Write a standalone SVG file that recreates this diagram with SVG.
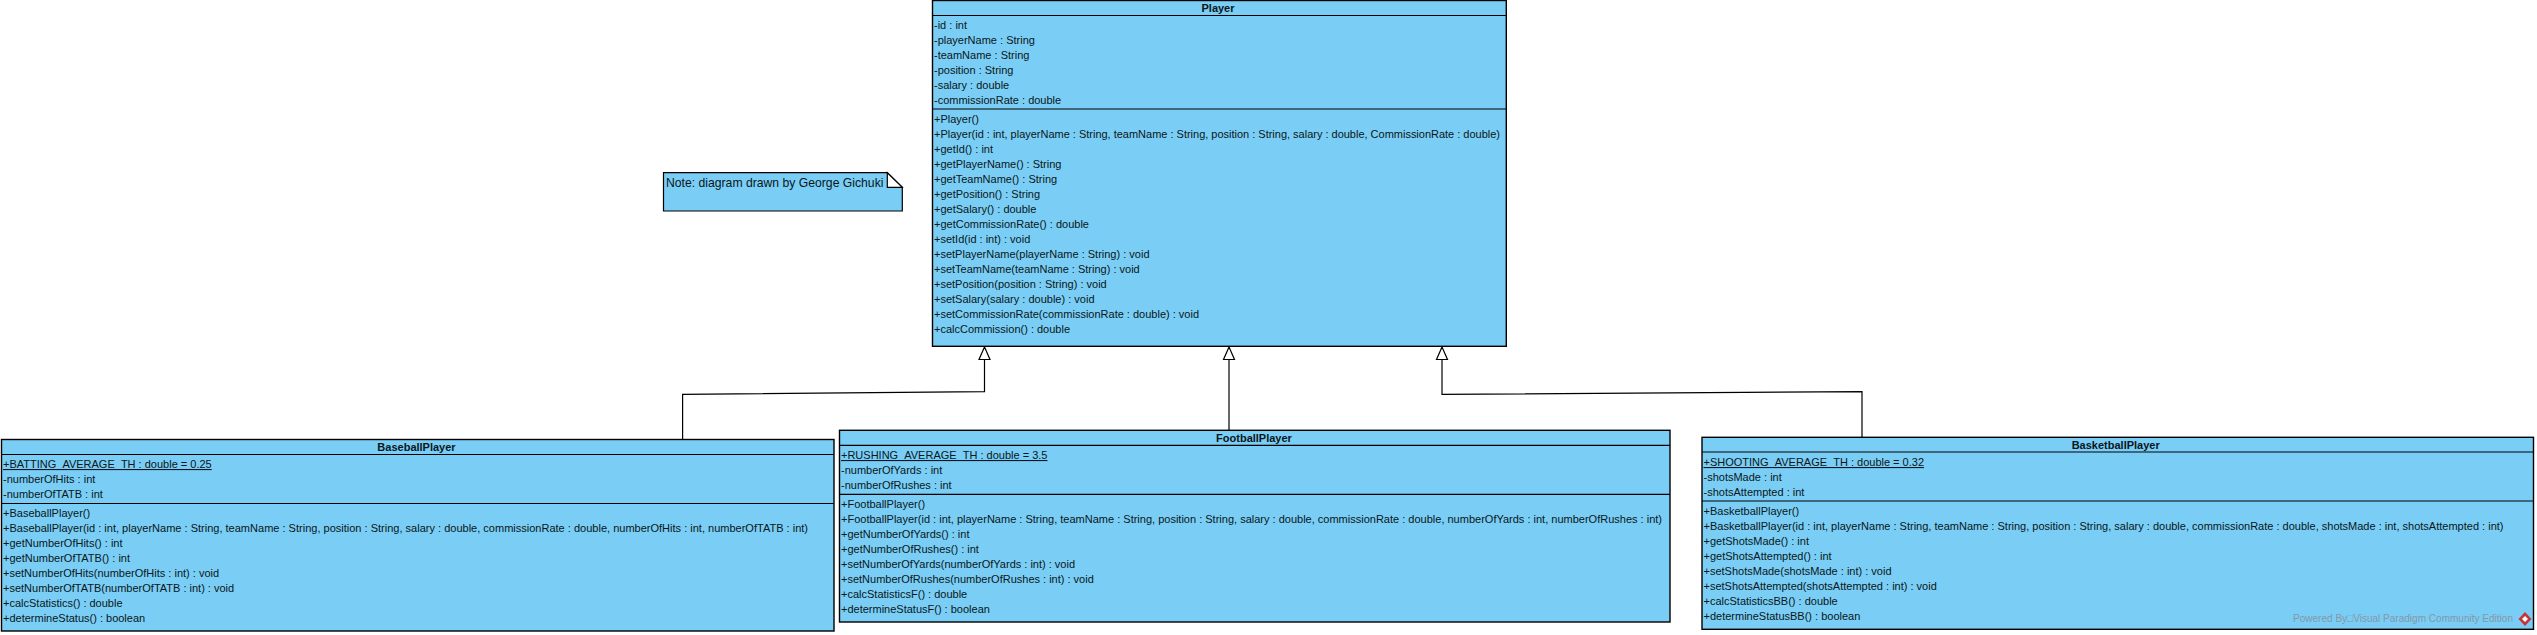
<svg xmlns="http://www.w3.org/2000/svg" width="2537" height="635" viewBox="0 0 2537 635">
<style>
.b{fill:#7acef5;stroke:#000;stroke-width:1.4}
.s{stroke:#000;stroke-width:1.2;fill:none}
.c{stroke:#000;stroke-width:1.2;fill:none}
text{font-family:"Liberation Sans",Arial,sans-serif;fill:#0a1620}
.t{font-size:11px}
.h{font-size:11px;font-weight:bold;text-anchor:middle}
.u{text-decoration:underline}
</style>
<rect width="2537" height="635" fill="#fff"/>
<g id="connectors">
<path class="c" d="M984.5 359.5V391.7L682.6 394.3V439"/>
<path class="c" d="M1229 359.5V430"/>
<path class="c" d="M1442 359.5V394.3L1862 391.7V437"/>
<path d="M984.5 347L990 359.5H979Z M1229 347L1234.5 359.5H1223.5Z M1442 347L1447.500 359.5H1436.500Z" fill="#fff" stroke="#000" stroke-width="1.2"/>
</g>
<g id="Player">
<rect class="b" x="932.500" y="0.500" width="573.800" height="345.800"/>
<path class="s" d="M932.500 15.500H1506.300M932.500 109H1506.300"/>
<text class="h" x="1218" y="12">Player</text>
<text class="t" x="934" y="29">-id : int</text>
<text class="t" x="934" y="44">-playerName : String</text>
<text class="t" x="934" y="59">-teamName : String</text>
<text class="t" x="934" y="74">-position : String</text>
<text class="t" x="934" y="89">-salary : double</text>
<text class="t" x="934" y="104">-commissionRate : double</text>
<text class="t" x="934" y="123">+Player()</text>
<text class="t" x="934" y="138" textLength="566" lengthAdjust="spacingAndGlyphs">+Player(id : int, playerName : String, teamName : String, position : String, salary : double, CommissionRate : double)</text>
<text class="t" x="934" y="153">+getId() : int</text>
<text class="t" x="934" y="168">+getPlayerName() : String</text>
<text class="t" x="934" y="183">+getTeamName() : String</text>
<text class="t" x="934" y="198">+getPosition() : String</text>
<text class="t" x="934" y="213">+getSalary() : double</text>
<text class="t" x="934" y="228">+getCommissionRate() : double</text>
<text class="t" x="934" y="243">+setId(id : int) : void</text>
<text class="t" x="934" y="258">+setPlayerName(playerName : String) : void</text>
<text class="t" x="934" y="273">+setTeamName(teamName : String) : void</text>
<text class="t" x="934" y="288">+setPosition(position : String) : void</text>
<text class="t" x="934" y="303">+setSalary(salary : double) : void</text>
<text class="t" x="934" y="318">+setCommissionRate(commissionRate : double) : void</text>
<text class="t" x="934" y="333">+calcCommission() : double</text>
</g>
<g id="Note">
<path d="M663.500 172.700H887.300L902.300 187.300V211H663.500Z" fill="#7acef5" stroke="#000" stroke-width="1.2"/>
<path d="M887.300 172.700V187.300H902.300Z" fill="#fff" stroke="#000" stroke-width="1.2"/>
<text x="666" y="187" font-size="12.200">Note: diagram drawn by George Gichuki</text>
</g>
<g id="BaseballPlayer">
<rect class="b" x="1.500" y="439.500" width="832.500" height="191.500"/>
<path class="s" d="M1.500 454.500H834M1.500 503.500H834"/>
<text class="h" x="416.500" y="451">BaseballPlayer</text>
<text class="t u" x="3" y="468">+BATTING_AVERAGE_TH : double = 0.25</text>
<text class="t" x="3" y="483">-numberOfHits : int</text>
<text class="t" x="3" y="498">-numberOfTATB : int</text>
<text class="t" x="3" y="517">+BaseballPlayer()</text>
<text class="t" x="3" y="532" textLength="805" lengthAdjust="spacingAndGlyphs">+BaseballPlayer(id : int, playerName : String, teamName : String, position : String, salary : double, commissionRate : double, numberOfHits : int, numberOfTATB : int)</text>
<text class="t" x="3" y="547">+getNumberOfHits() : int</text>
<text class="t" x="3" y="562">+getNumberOfTATB() : int</text>
<text class="t" x="3" y="577">+setNumberOfHits(numberOfHits : int) : void</text>
<text class="t" x="3" y="592">+setNumberOfTATB(numberOfTATB : int) : void</text>
<text class="t" x="3" y="607">+calcStatistics() : double</text>
<text class="t" x="3" y="622">+determineStatus() : boolean</text>
</g>
<g id="FootballPlayer">
<rect class="b" x="839.500" y="430.300" width="830.500" height="191.700"/>
<path class="s" d="M839.500 445.300H1670M839.500 494.300H1670"/>
<text class="h" x="1254" y="442">FootballPlayer</text>
<text class="t u" x="841" y="459">+RUSHING_AVERAGE_TH : double = 3.5</text>
<text class="t" x="841" y="474">-numberOfYards : int</text>
<text class="t" x="841" y="489">-numberOfRushes : int</text>
<text class="t" x="841" y="508">+FootballPlayer()</text>
<text class="t" x="841" y="523" textLength="821" lengthAdjust="spacingAndGlyphs">+FootballPlayer(id : int, playerName : String, teamName : String, position : String, salary : double, commissionRate : double, numberOfYards : int, numberOfRushes : int)</text>
<text class="t" x="841" y="538">+getNumberOfYards() : int</text>
<text class="t" x="841" y="553">+getNumberOfRushes() : int</text>
<text class="t" x="841" y="568">+setNumberOfYards(numberOfYards : int) : void</text>
<text class="t" x="841" y="583">+setNumberOfRushes(numberOfRushes : int) : void</text>
<text class="t" x="841" y="598">+calcStatisticsF() : double</text>
<text class="t" x="841" y="613">+determineStatusF() : boolean</text>
</g>
<g id="BasketballPlayer">
<rect class="b" x="1702" y="437.300" width="831.500" height="192"/>
<path class="s" d="M1702 452H2533.500M1702 501H2533.500"/>
<text class="h" x="2115.700" y="449">BasketballPlayer</text>
<text class="t u" x="1703.500" y="466">+SHOOTING_AVERAGE_TH : double = 0.32</text>
<text class="t" x="1703.500" y="481">-shotsMade : int</text>
<text class="t" x="1703.500" y="496">-shotsAttempted : int</text>
<text class="t" x="1703.500" y="515">+BasketballPlayer()</text>
<text class="t" x="1703.500" y="530" textLength="800" lengthAdjust="spacingAndGlyphs">+BasketballPlayer(id : int, playerName : String, teamName : String, position : String, salary : double, commissionRate : double, shotsMade : int, shotsAttempted : int)</text>
<text class="t" x="1703.500" y="545">+getShotsMade() : int</text>
<text class="t" x="1703.500" y="560">+getShotsAttempted() : int</text>
<text class="t" x="1703.500" y="575">+setShotsMade(shotsMade : int) : void</text>
<text class="t" x="1703.500" y="590">+setShotsAttempted(shotsAttempted : int) : void</text>
<text class="t" x="1703.500" y="605">+calcStatisticsBB() : double</text>
<text class="t" x="1703.500" y="620">+determineStatusBB() : boolean</text>
</g>
<g id="watermark">
<text x="2293" y="622" font-size="11" textLength="220" lengthAdjust="spacingAndGlyphs" style="fill:#8497a8">Powered By□Visual Paradigm Community Edition</text>
<path d="M2525 612L2531.500 619L2525 626L2518.500 619Z" fill="#c8333a"/>
<path d="M2525 616L2528 619L2525 622L2522 619Z" fill="#fff"/>
</g>
</svg>
